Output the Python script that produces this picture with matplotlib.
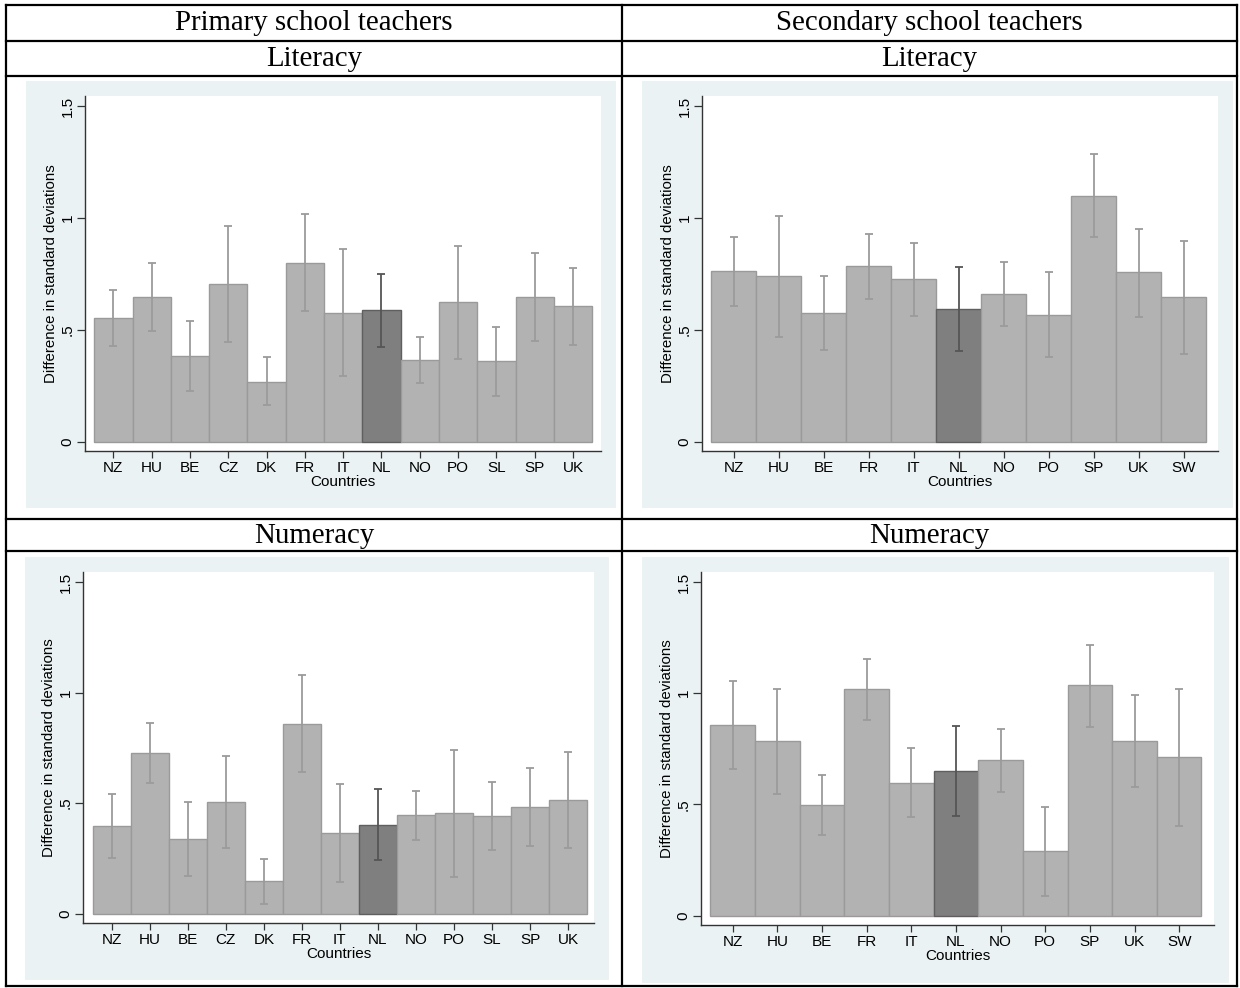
import numpy as np
import matplotlib
matplotlib.use("Agg")
import matplotlib.pyplot as plt
from matplotlib.patches import Rectangle
from matplotlib.lines import Line2D

# ---- data ----
prim_countries = ["NZ", "HU", "BE", "CZ", "DK", "FR", "IT", "NL", "NO", "PO", "SL", "SP", "UK"]
sec_countries = ["NZ", "HU", "BE", "FR", "IT", "NL", "NO", "PO", "SP", "UK", "SW"]

prim_lit = [0.553, 0.647, 0.383, 0.705, 0.268, 0.799, 0.577, 0.587, 0.365, 0.626, 0.359, 0.645, 0.605]
prim_lit_lo = [0.428, 0.493, 0.225, 0.444, 0.162, 0.583, 0.294, 0.425, 0.261, 0.371, 0.204, 0.449, 0.431]
prim_lit_hi = [0.678, 0.799, 0.541, 0.964, 0.376, 1.016, 0.860, 0.751, 0.468, 0.876, 0.514, 0.841, 0.776]

sec_lit = [0.762, 0.739, 0.575, 0.787, 0.726, 0.595, 0.662, 0.568, 1.100, 0.756, 0.645]
sec_lit_lo = [0.607, 0.468, 0.410, 0.638, 0.560, 0.405, 0.516, 0.377, 0.915, 0.557, 0.390]
sec_lit_hi = [0.915, 1.010, 0.739, 0.930, 0.888, 0.781, 0.803, 0.757, 1.286, 0.952, 0.896]

prim_num = [0.398, 0.727, 0.338, 0.505, 0.146, 0.860, 0.365, 0.401, 0.446, 0.454, 0.443, 0.482, 0.514]
prim_num_lo = [0.251, 0.592, 0.170, 0.295, 0.042, 0.642, 0.144, 0.243, 0.335, 0.167, 0.290, 0.304, 0.299]
prim_num_hi = [0.543, 0.861, 0.505, 0.714, 0.248, 1.078, 0.585, 0.562, 0.556, 0.738, 0.594, 0.661, 0.730]

sec_num = [0.858, 0.784, 0.496, 1.017, 0.598, 0.650, 0.700, 0.290, 1.035, 0.785, 0.712]
sec_num_lo = [0.661, 0.547, 0.362, 0.881, 0.444, 0.449, 0.556, 0.088, 0.849, 0.577, 0.402]
sec_num_hi = [1.056, 1.021, 0.631, 1.153, 0.752, 0.851, 0.837, 0.488, 1.216, 0.991, 1.021]

ytick_vals = [0, 0.5, 1, 1.5]
ytick_labels = ["0", ".5", "1", "1.5"]

W, H = 1240, 988
BG = "#eaf2f3"
SANS = ["Liberation Sans", "DejaVu Sans"]
SERIF = ["Liberation Serif", "DejaVu Serif"]

fig = plt.figure(figsize=(W / 100, H / 100), dpi=100)
fig.patch.set_facecolor("white")


def fx(x):
    return x / W


def fy(y):
    return 1 - y / H


def add_panel(plot_px, bg_px, countries, vals, lo, hi, xlim):
    bx0, by0, bx1, by1 = bg_px
    fig.patches.append(Rectangle((fx(bx0), fy(by1)), (bx1 - bx0) / W, (by1 - by0) / H,
                                 transform=fig.transFigure, facecolor=BG, edgecolor="none", zorder=-5))
    x0, y0, x1, y1 = plot_px
    ax = fig.add_axes([fx(x0), fy(y1), (x1 - x0) / W, (y1 - y0) / H])
    ax.set_zorder(2)
    ax.set_facecolor("white")

    vals = np.array(vals)
    lo = np.array(lo)
    hi = np.array(hi)
    x = np.arange(len(countries))
    is_nl = np.array([c == "NL" for c in countries])

    ax.bar(x, vals, width=1.0, color=np.where(is_nl, "#7f7f7f", "#b2b2b2"),
           edgecolor=np.where(is_nl, "#5f5f5f", "#9a9a9a"), linewidth=1.0, zorder=2)
    for i in range(len(x)):
        ax.errorbar(x[i], vals[i], yerr=[[vals[i] - lo[i]], [hi[i] - vals[i]]], fmt="none",
                    ecolor="#555555" if is_nl[i] else "#9b9b9b", elinewidth=1.3,
                    capsize=2.6, capthick=1.3, zorder=3)

    ax.set_xlim(*xlim)
    ax.set_ylim(-0.042, 1.545)
    ax.set_xticks(x)
    ax.set_xticklabels(countries, family=SANS, fontsize=11)
    ax.set_yticks(ytick_vals)
    ax.set_yticklabels(ytick_labels, family=SANS, fontsize=11, rotation=90, va="center")
    ax.tick_params(axis="y", length=5.8, width=0.9, color="#333333", pad=1.8)
    ax.tick_params(axis="x", length=5.0, width=0.9, color="#333333", pad=2.0)
    for s in ["top", "right"]:
        ax.spines[s].set_visible(False)
    for s in ["left", "bottom"]:
        ax.spines[s].set_color("#333333")
        ax.spines[s].set_linewidth(1.0)
    ax.set_xlabel("Countries", family=SANS, fontsize=11, labelpad=0.5)
    ax.set_ylabel("Difference in standard deviations", family=SANS, fontsize=10.8, labelpad=1.5)
    return ax


add_panel((85, 96, 601, 451), (26, 81, 616, 508), prim_countries,
          prim_lit, prim_lit_lo, prim_lit_hi, (-0.74, 12.73))
add_panel((702, 96, 1218, 451), (642, 81, 1233, 508), sec_countries,
          sec_lit, sec_lit_lo, sec_lit_hi, (-0.71, 10.76))
add_panel((83, 572, 594, 923), (25, 557, 609, 980), prim_countries,
          prim_num, prim_num_lo, prim_num_hi, (-0.755, 12.68))
add_panel((701, 572, 1214, 925), (642, 557, 1229, 983), sec_countries,
          sec_num, sec_num_lo, sec_num_hi, (-0.71, 10.78))

# ---- table grid ----
LW = 1.6
xl, xm, xr = 6, 622, 1237
for y in [5, 41, 76, 519, 551, 986]:
    fig.add_artist(Line2D([fx(xl), fx(xr)], [fy(y), fy(y)], transform=fig.transFigure,
                          color="black", linewidth=LW))
for x in [xl, xm, xr]:
    fig.add_artist(Line2D([fx(x), fx(x)], [fy(5), fy(986)], transform=fig.transFigure,
                          color="black", linewidth=LW))

for cx, txt in [((xl + xm) / 2, "Primary school teachers"), ((xm + xr) / 2, "Secondary school teachers")]:
    fig.text(fx(cx), fy(23), txt, family=SERIF, fontsize=20.8, ha="center", va="center")
for cx in [(xl + xm) / 2, (xm + xr) / 2]:
    fig.text(fx(cx), fy(59), "Literacy", family=SERIF, fontsize=20.8, ha="center", va="center")
    fig.text(fx(cx), fy(536), "Numeracy", family=SERIF, fontsize=20.8, ha="center", va="center")

fig.savefig("out.png", dpi=100)
